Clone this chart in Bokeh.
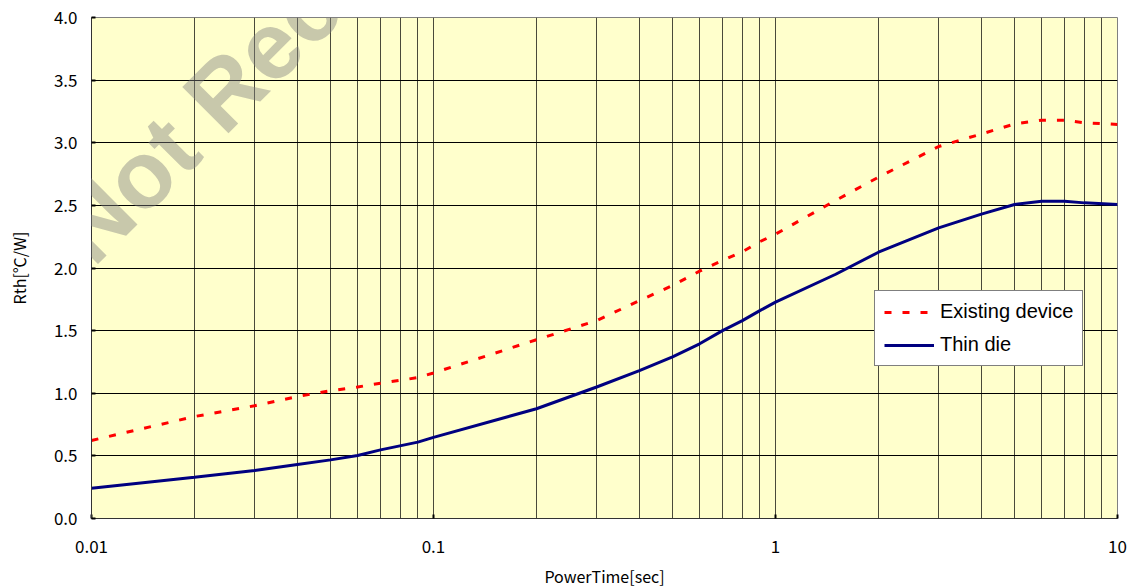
from bokeh.plotting import figure
from bokeh.models import (Range1d, FixedTicker, CustomJSTickFormatter, PrintfTickFormatter,
                          Legend, LegendItem, ColumnDataSource)
from bokeh.embed import file_html
from bokeh.resources import INLINE

try:
    from bokeh.models import HTMLLabel
except ImportError:
    HTMLLabel = None

# ---- data ----
power_time = [0.01, 0.02, 0.03, 0.04, 0.05, 0.06, 0.07, 0.09, 0.1, 0.2, 0.3, 0.4, 0.5,
              0.6, 0.7, 0.8, 0.9, 1.0, 1.5, 2.0, 3.0, 4.0, 5.0, 6.0, 7.0, 8.0, 10.0]
existing_device = [0.623, 0.814, 0.90, 0.974, 1.02, 1.05, 1.08, 1.125, 1.162, 1.427, 1.58,
                   1.74, 1.86, 1.975, 2.06, 2.13, 2.21, 2.27, 2.54, 2.725, 2.97, 3.07,
                   3.15, 3.18, 3.18, 3.16, 3.146]
thin_die = [0.242, 0.33, 0.383, 0.431, 0.468, 0.503, 0.548, 0.61, 0.648, 0.876, 1.05,
            1.18, 1.29, 1.395, 1.50, 1.58, 1.66, 1.727, 1.95, 2.126, 2.32, 2.43, 2.507,
            2.533, 2.533, 2.52, 2.507]
x_major_ticks = [0.01, 0.1, 1, 10]
x_grid_ticks = [m * d for d in (0.01, 0.1, 1) for m in range(1, 10)] + [10]
y_ticks = [0, 0.5, 1.0, 1.5, 2.0, 2.5, 3.0, 3.5, 4.0]
series_names = ["Existing device", "Thin die"]
x_label = "PowerTime[sec]"
y_label = "Rth[℃/W]"
watermark = "Not Recommended for New Design"

FONT = "Noto Sans CJK JP"

p = figure(x_axis_type="log", output_backend="svg", toolbar_location=None,
           frame_width=1026, frame_height=501,
           x_range=Range1d(0.01, 10), y_range=Range1d(0, 4))
p.min_border_left = 91
p.min_border_right = 11
p.min_border_top = 17
p.min_border_bottom = 69
p.background_fill_color = "#FFFFCC"
p.border_fill_color = "white"
p.outline_line_color = "#808080"
p.outline_line_width = 1

# grid
p.xgrid.ticker = FixedTicker(ticks=x_grid_ticks)
p.xgrid.grid_line_color = "#4a4a3a"
p.xgrid.grid_line_width = 1
p.xgrid.minor_grid_line_color = None
p.ygrid.ticker = FixedTicker(ticks=y_ticks)
p.ygrid.grid_line_color = "black"
p.ygrid.grid_line_width = 1

# axes
p.xaxis.ticker = FixedTicker(ticks=x_major_ticks)
p.xaxis.formatter = CustomJSTickFormatter(code="return tick.toString();")
p.yaxis.ticker = FixedTicker(ticks=y_ticks)
p.yaxis.formatter = PrintfTickFormatter(format="%.1f")
for ax in (p.xaxis[0], p.yaxis[0]):
    ax.axis_line_color = "#333333"
    ax.axis_line_width = 1
    ax.major_tick_in = 4
    ax.major_tick_out = 0
    ax.major_tick_line_color = "black"
    ax.major_tick_line_width = 2
    ax.minor_tick_line_color = None
    ax.major_label_text_font = FONT
    ax.major_label_text_font_size = "17px"
    ax.major_label_text_color = "black"
    ax.axis_label_text_font = FONT
    ax.axis_label_text_font_size = "16px"
    ax.axis_label_text_font_style = "normal"
    ax.axis_label_text_color = "black"
p.xaxis.axis_label = x_label
p.yaxis.axis_label = y_label
p.xaxis.major_label_standoff = 21
p.xaxis.axis_label_standoff = 8
p.yaxis.major_label_standoff = 14
p.yaxis.axis_label_standoff = 20

src = ColumnDataSource(dict(x=power_time, e=existing_device, t=thin_die))
r_exist = p.line("x", "e", source=src, line_color="red", line_width=3, line_dash="7 11")
r_thin = p.line("x", "t", source=src, line_color="#000080", line_width=3)

# watermark as an HTML label (rotated 45 degrees)
if HTMLLabel is not None:
    wm = HTMLLabel(x=0.0113, y=1.87, text=watermark, angle=0.7854,
                   text_font="DejaVu Serif",
                   text_font_style="bold",
                   text_font_size="95px", text_color="#808080", text_alpha=0.43)
    p.add_layout(wm)

legend = Legend(items=[LegendItem(label=series_names[0], renderers=[r_exist]),
                       LegendItem(label=series_names[1], renderers=[r_thin])],
                location=(783, 152), orientation="vertical")
legend.label_text_font = "Liberation Sans"
legend.label_text_font_size = "20px"
legend.label_text_color = "black"
legend.glyph_width = 50
legend.glyph_height = 22
legend.label_height = 22
legend.label_standoff = 6
legend.padding = 9
legend.spacing = 10
legend.margin = 0
legend.border_line_color = "black"
legend.border_line_width = 1
legend.background_fill_color = "white"
legend.background_fill_alpha = 1
p.add_layout(legend, "center")

open("out.html", "w").write(file_html(p, INLINE))
